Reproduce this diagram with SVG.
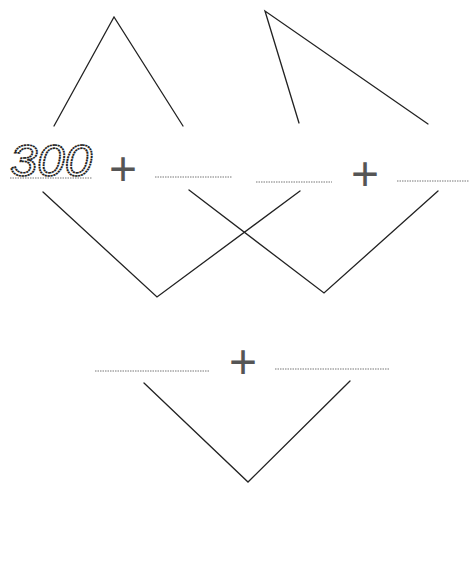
<svg xmlns="http://www.w3.org/2000/svg" width="469" height="562" viewBox="0 0 469 562">
<style>
.ln{fill:none;stroke:#222;stroke-width:1.3;stroke-linejoin:miter;stroke-linecap:round}
.blank{stroke:#777;stroke-width:1;stroke-dasharray:1.5 1}
.plus{font-family:"Liberation Sans",Arial,sans-serif;font-size:48px;fill:#555;text-anchor:middle}
.num{font-family:"Liberation Sans",Arial,sans-serif;font-size:44px;font-style:italic;fill:#fff;stroke:#222;stroke-width:1.7;stroke-dasharray:2 0.6}
</style>
<rect width="469" height="562" fill="#fff"/>
<g id="connectors">
<polyline class="ln" points="54,126 114,17 183,126"/>
<polyline class="ln" points="299,123 265,11 428,124"/>
<polyline class="ln" points="43,192 157,297 300,191"/>
<polyline class="ln" points="189,190 324,293 438,191"/>
<polyline class="ln" points="144,383 248,482 350,381"/>
</g>
<g id="row1">
<g id="n300">
<text class="num" x="10" y="176" textLength="82" lengthAdjust="spacingAndGlyphs">300</text>
<line class="blank" x1="10" y1="178" x2="92" y2="178"/>
</g>
<g id="plus1"><text class="plus" x="123" y="185">+</text></g>
<g id="blank1"><line class="blank" x1="155" y1="177" x2="232" y2="177"/></g>
<g id="blank2"><line class="blank" x1="256" y1="182" x2="332" y2="182"/></g>
<g id="plus2"><text class="plus" x="365" y="190">+</text></g>
<g id="blank3"><line class="blank" x1="397" y1="181" x2="469" y2="181"/></g>
</g>
<g id="row2">
<g id="blank4"><line class="blank" x1="95" y1="371" x2="210" y2="371"/></g>
<g id="plus3"><text class="plus" x="243" y="378">+</text></g>
<g id="blank5"><line class="blank" x1="275" y1="369" x2="390" y2="369"/></g>
</g>
</svg>
